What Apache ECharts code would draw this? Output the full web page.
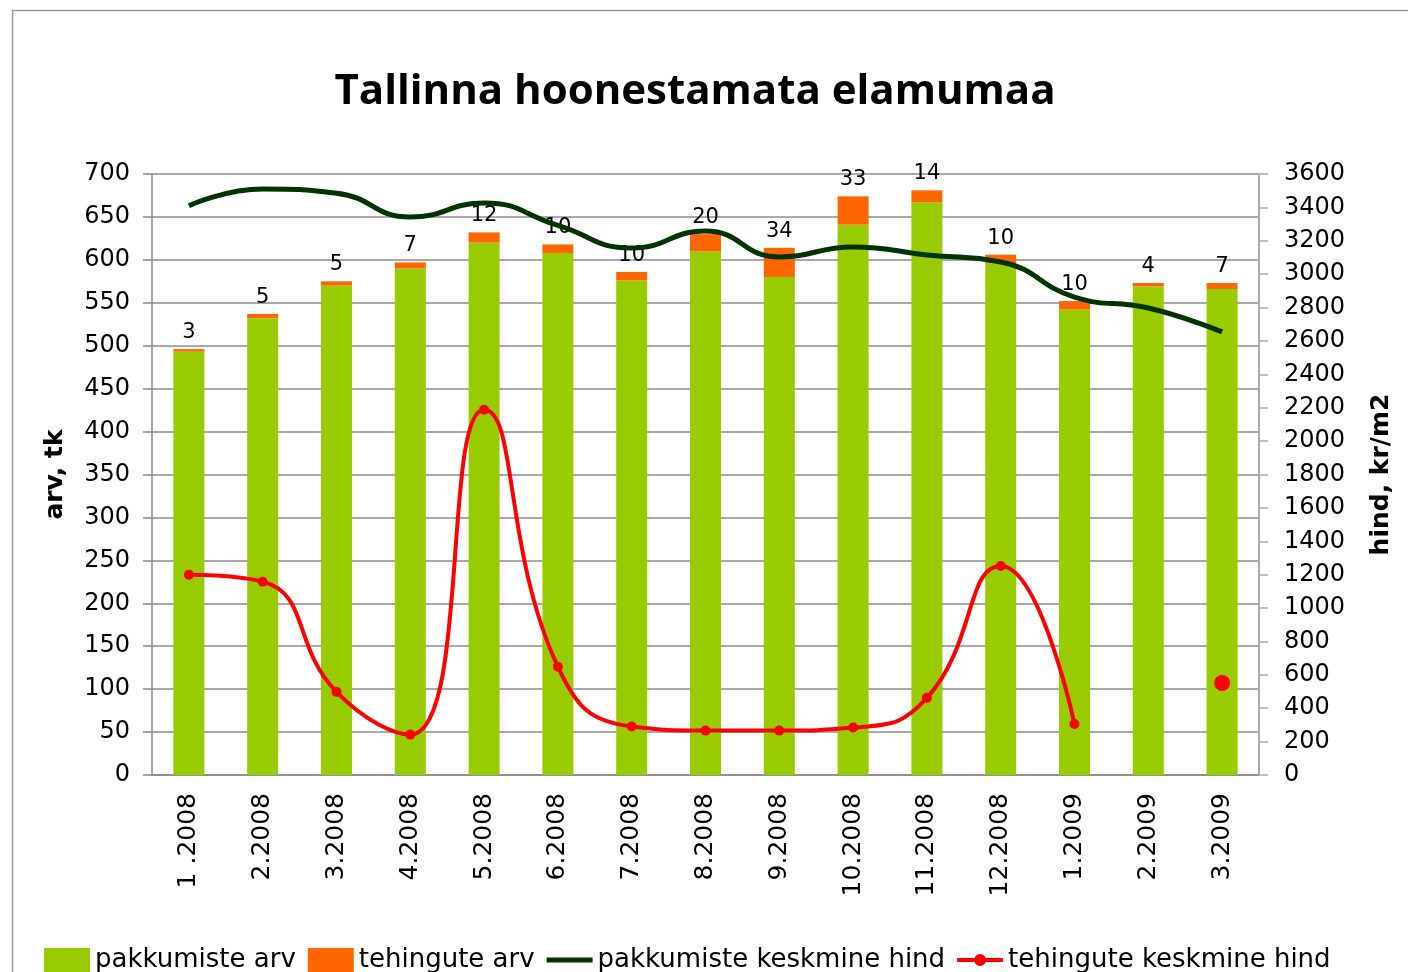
<!DOCTYPE html>
<html>
<head>
<meta charset="utf-8">
<title>Tallinna hoonestamata elamumaa</title>
<script src="https://cdn.jsdelivr.net/npm/echarts@6/dist/echarts.min.js"></script>
<style>
  html, body { margin: 0; padding: 0; background: #fff; }
  #chart { width: 1408px; height: 972px; }
</style>
</head>
<body>
<div id="chart"></div>
<script>
// kuud
const months = ['1 .2008', '2.2008', '3.2008', '4.2008', '5.2008', '6.2008', '7.2008', '8.2008',
  '9.2008', '10.2008', '11.2008', '12.2008', '1.2009', '2.2009', '3.2009']
// pakkumiste arv (roheline)
const offersCount = [493, 532, 570, 590, 620, 608, 576, 610, 580, 641, 667, 596, 542, 569, 566]
// tehingute arv (oranž)
const dealsCount = [3, 5, 5, 7, 12, 10, 10, 20, 34, 33, 14, 10, 10, 4, 7]
// pakkumiste keskmine hind, kr/m2
const offersPrice = [3410, 3510, 3485, 3342, 3426, 3292, 3157, 3258, 3103, 3163, 3115, 3073, 2863, 2797, 2654]
// tehingute keskmine hind, kr/m2 (2.2009 puudub)
const dealsPrice = [1200, 1158, 498, 242, 2188, 648, 290, 266, 266, 284, 462, 1252, 305, null, 551]

const font = 'DejaVu Sans'
const chart = echarts.init(document.getElementById('chart'))

// legendi ikoonid: paks joon ja joon täpiga
const lineIcon = 'path://M0,0 L0.01,0 L0,0.01 Z M0,9.5 L46,9.5 L46,14.5 L0,14.5 Z M46,24 L45.99,24 L46,23.99 Z'
const dotLineIcon = 'path://M0,0 L0.01,0 L0,0.01 Z ' +
  'M0,10 L18.5,10 L18.5,14 L0,14 Z M27.5,10 L46,10 L46,14 L27.5,14 Z ' +
  'M17,12 A6,6 0 1,1 29,12 A6,6 0 1,1 17,12 Z M46,24 L45.99,24 L46,23.99 Z'

const option = {
  backgroundColor: '#fff',
  animation: false,
  textStyle: { fontFamily: font, color: '#000' },
  title: {
    text: 'Tallinna hoonestamata elamumaa',
    left: 690,
    top: 66,
    textAlign: 'center',
    textStyle: {
      fontFamily: 'Open Sans',
      fontWeight: 'bold',
      fontSize: 42,
      color: '#000'
    }
  },
  graphic: [{
    type: 'rect',
    left: 10,
    top: 8,
    shape: { width: 1500, height: 1100 },
    style: { fill: 'none', stroke: '#999', lineWidth: 1.5 },
    silent: true
  }],
  legend: {
    left: 39,
    bottom: -6,
    itemWidth: 46,
    itemHeight: 24,
    itemGap: 12,
    textStyle: { fontFamily: font, fontSize: 26, color: '#000' },
    data: [
      { name: 'pakkumiste arv', icon: 'rect' },
      { name: 'tehingute arv', icon: 'rect' },
      { name: 'pakkumiste keskmine hind', icon: lineIcon },
      { name: 'tehingute keskmine hind', icon: dotLineIcon }
    ]
  },
  grid: {
    left: 152,
    right: 149,
    top: 174,
    bottom: 197
  },
  xAxis: [{
    type: 'category',
    data: months,
    axisLine: { lineStyle: { color: '#888', width: 1.5 } },
    axisTick: { alignWithLabel: false, length: 10, lineStyle: { color: '#888', width: 1.5 } },
    axisLabel: {
      rotate: 90,
      margin: 18,
      fontSize: 25,
      fontFamily: font,
      color: '#000'
    }
  }],
  yAxis: [{
    type: 'value',
    min: 0,
    max: 700,
    interval: 50,
    name: 'arv, tk',
    nameLocation: 'middle',
    nameGap: 84,
    nameRotate: 90,
    nameTextStyle: { fontFamily: font, fontWeight: 'bold', fontSize: 25, color: '#000' },
    axisLine: { show: true, lineStyle: { color: '#888', width: 1.5 } },
    axisTick: { show: true, length: 9, lineStyle: { color: '#888', width: 1.5 } },
    axisLabel: { fontSize: 24, margin: 22, color: '#000', fontFamily: font },
    splitLine: { lineStyle: { color: '#8c8c8c', width: 1.5 } }
  }, {
    type: 'value',
    min: 0,
    max: 3600,
    interval: 200,
    name: 'hind, kr/m2',
    nameLocation: 'middle',
    nameGap: 110,
    nameRotate: 90,
    nameTextStyle: { fontFamily: font, fontWeight: 'bold', fontSize: 25, color: '#000' },
    axisLine: { show: true, lineStyle: { color: '#aaa', width: 2 } },
    axisTick: { show: true, length: 9, lineStyle: { color: '#aaa', width: 1.5 } },
    axisLabel: { fontSize: 24, margin: 25, color: '#000', fontFamily: font, formatter: v => String(v) },
    splitLine: { show: false }
  }],
  series: [{
    name: 'pakkumiste arv',
    type: 'bar',
    stack: 'arv',
    barWidth: 31,
    itemStyle: { color: '#99CC00' },
    data: offersCount
  }, {
    name: 'tehingute arv',
    type: 'bar',
    stack: 'arv',
    barWidth: 31,
    itemStyle: { color: '#FF6600' },
    label: {
      show: true,
      position: 'top',
      distance: 6,
      fontFamily: font,
      fontSize: 21,
      color: '#000'
    },
    data: dealsCount
  }, {
    name: 'pakkumiste keskmine hind',
    type: 'line',
    yAxisIndex: 1,
    smooth: 0.5,
    symbol: 'none',
    lineStyle: { color: '#003300', width: 5 },
    itemStyle: { color: '#003300' },
    data: offersPrice
  }, {
    name: 'tehingute keskmine hind',
    type: 'line',
    yAxisIndex: 1,
    smooth: 0.5,
    connectNulls: false,
    symbol: 'circle',
    showAllSymbol: true,
    symbolSize: (v, p) => (p.dataIndex === dealsPrice.length - 1 ? 16 : 10),
    lineStyle: { color: '#FF0000', width: 4 },
    itemStyle: { color: '#FF0000' },
    data: dealsPrice
  }]
}

chart.setOption(option)
</script>
</body>
</html>
